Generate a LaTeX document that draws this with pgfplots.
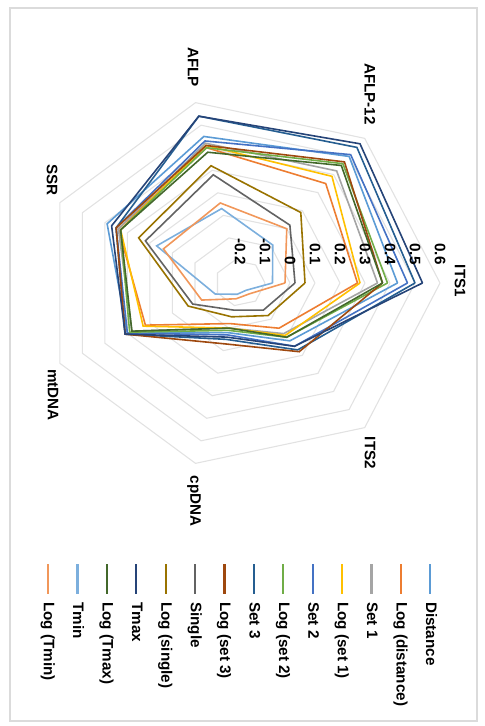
\documentclass[border=0pt]{standalone}
\usepackage{graphicx}
\usepackage{fontspec}
\setmainfont{Liberation Sans}
\usepackage{pgfplots}
\usepackage{pgfplotstable}
\pgfplotsset{compat=1.18}

\definecolor{cdist}{HTML}{5B9BD5}
\definecolor{cldist}{HTML}{ED7D31}
\definecolor{csa}{HTML}{A5A5A5}
\definecolor{clsa}{HTML}{FFC000}
\definecolor{csb}{HTML}{4472C4}
\definecolor{clsb}{HTML}{70AD47}
\definecolor{csc}{HTML}{255E91}
\definecolor{clsc}{HTML}{9E480E}
\definecolor{csing}{HTML}{636363}
\definecolor{clsing}{HTML}{997300}
\definecolor{ctmax}{HTML}{264478}
\definecolor{cltmax}{HTML}{43682B}
\definecolor{ctmin}{HTML}{7CAFDD}
\definecolor{cltmin}{HTML}{F1975A}
\definecolor{gridc}{HTML}{E2E2E2}

% rows: 0 ITS1, 1 ITS2, 2 cpDNA, 3 mtDNA, 4 SSR, 5 AFLP, 6 AFLP-12, 7 ITS1 again (closes the polygon)
\pgfplotstableread{
k dist  ldist s1    ls1   s2    ls2   s3    ls3   sing  lsing tmax  ltmax tmin  ltmin
0 0.43  0.27  0.35  0.28  0.47  0.39  0.50  0.37  0.02  0.06  0.53  0.37  -0.07 -0.02
1 0.12  0.05  0.08  0.09  0.15  0.10  0.17  0.18  -0.05 -0.02 0.15  0.10  -0.16 -0.14
2 0.02  -0.02 0.00  0.00  0.03  0.01  0.05  0.07  -0.08 -0.05 0.04  0.00  -0.15 -0.13
3 0.30  0.22  0.28  0.23  0.30  0.29  0.31  0.31  0.01  0.03  0.31  0.28  -0.09 -0.03
4 0.39  0.34  0.34  0.33  0.35  0.33  0.35  0.35  0.22  0.25  0.37  0.33  0.17  0.14
5 0.45  0.40  0.42  0.41  0.43  0.40  0.54  0.41  0.28  0.32  0.54  0.38  0.13  0.155
6 0.50  0.35  0.42  0.39  0.51  0.46  0.55  0.47  0.12  0.19  0.57  0.45  0.01  0.10
7 0.43  0.27  0.35  0.28  0.47  0.39  0.50  0.37  0.02  0.06  0.53  0.37  -0.07 -0.02
}\data

\newcommand{\radarplot}[3]{%
  \addplot[color=#2, line width=0.8pt] table[
    x expr={283+231.25*(\thisrow{#1}+0.2)*sin(51.428571*\thisrow{k})},
    y expr={240+250*(\thisrow{#1}+0.2)*cos(51.428571*\thisrow{k})}]{\data};
  \addlegendentry{#3}}

\newsavebox{\chartbox}

\begin{document}
\begin{lrbox}{\chartbox}%
\begin{tikzpicture}[font=\fontsize{7.6}{9}\selectfont\bfseries]
\begin{axis}[
  at={(0,0)}, anchor=south west,
  scale only axis, width=363pt, height=242pt,
  xmin=0, xmax=726, ymin=0, ymax=484,
  hide axis, clip=false,
  legend cell align=left,
  legend image code/.code={\draw[#1, line width=1.1pt] (0pt,0pt) -- (15pt,0pt);},
  legend style={at={(0.7755,0.905)}, anchor=north west, draw=none, fill=none,
    inner sep=0pt, outer sep=0pt, row sep=6.9pt,
    font=\fontsize{7.6}{9}\selectfont\bfseries,
    nodes={inner sep=0pt, text height=6pt, text depth=1.8pt},
    /tikz/every odd column/.style={column sep=3.5pt}},
]
\path (axis cs:0,0) rectangle (axis cs:726,484);
\draw[color=black!14, line width=0.8pt] (axis cs:8,10) rectangle (axis cs:721,477);

\pgfplotsinvokeforeach{1,2,3,4,5,6,7,8}{
  \addplot[gridc, line width=0.55pt, forget plot] table[
    x expr={283+185*#1/8*sin(51.428571*\thisrow{k})},
    y expr={240+200*#1/8*cos(51.428571*\thisrow{k})}]{\data};
}

\radarplot{dist}{cdist}{Distance}
\radarplot{ldist}{cldist}{Log (distance)}
\radarplot{s1}{csa}{Set 1}
\radarplot{ls1}{clsa}{Log (set 1)}
\radarplot{s2}{csb}{Set 2}
\radarplot{ls2}{clsb}{Log (set 2)}
\radarplot{s3}{csc}{Set 3}
\radarplot{ls3}{clsc}{Log (set 3)}
\radarplot{sing}{csing}{Single}
\radarplot{lsing}{clsing}{Log (single)}
\radarplot{tmax}{ctmax}{Tmax}
\radarplot{ltmax}{cltmax}{Log (Tmax)}
\radarplot{tmin}{ctmin}{Tmin}
\radarplot{ltmin}{cltmin}{Log (Tmin)}

\node at (axis cs:281,460) {ITS1};
\node at (axis cs:453,370) {ITS2};
\node at (axis cs:501,194) {cpDNA};
\node at (axis cs:395,53) {mtDNA};
\node at (axis cs:180,52) {SSR};
\node at (axis cs:67,193) {AFLP};
\node at (axis cs:94,370) {AFLP-12};

\node[anchor=east, inner sep=0pt] at (axis cs:265,240) {-0.2};
\node[anchor=east, inner sep=0pt] at (axis cs:265,265) {-0.1};
\node[anchor=east, inner sep=0pt] at (axis cs:265,290) {0};
\node[anchor=east, inner sep=0pt] at (axis cs:265,315) {0.1};
\node[anchor=east, inner sep=0pt] at (axis cs:265,340) {0.2};
\node[anchor=east, inner sep=0pt] at (axis cs:265,365) {0.3};
\node[anchor=east, inner sep=0pt] at (axis cs:265,390) {0.4};
\node[anchor=east, inner sep=0pt] at (axis cs:265,415) {0.5};
\node[anchor=east, inner sep=0pt] at (axis cs:265,440) {0.6};
\end{axis}
\end{tikzpicture}%
\end{lrbox}%
\rotatebox{-90}{\usebox{\chartbox}}
\end{document}
